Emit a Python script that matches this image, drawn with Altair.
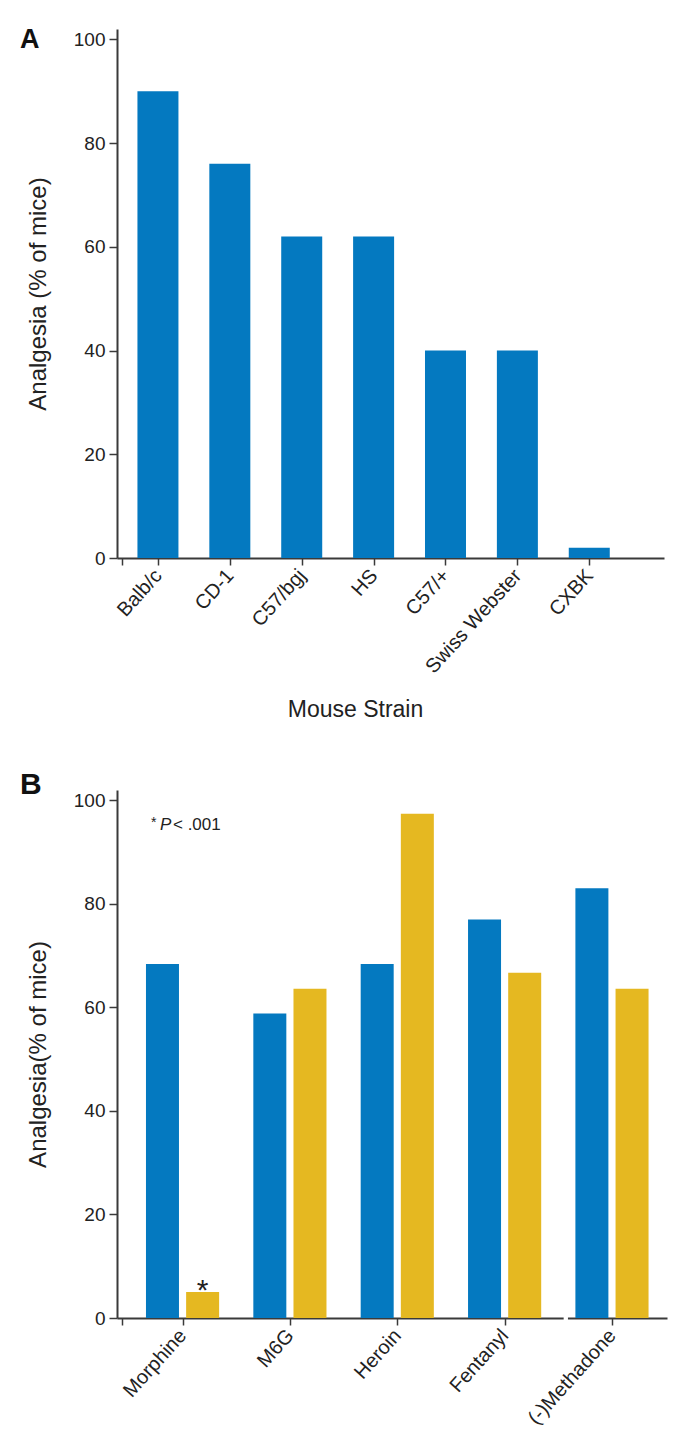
import json
import altair as alt
import pandas as pd

# ---------------- data ----------------
strains = ["Balb/c", "CD-1", "C57/bgj", "HS", "C57/+", "Swiss Webster", "CXBK"]
strain_analgesia = [90, 76, 62, 62, 40, 40, 2]

drugs = ["Morphine", "M6G", "Heroin", "Fentanyl", "(-)Methadone"]
series_names = ["Series 1", "Series 2"]
series1_analgesia = [68.4, 58.8, 68.4, 77.0, 83.0]
series2_analgesia = [5.0, 63.6, 97.4, 66.7, 63.6]
series2_marks = ["*", "", "", "", ""]
y_ticks = [0, 20, 40, 60, 80, 100]
axis_break = [3.55, 3.59]

BLUE = "#0479C0"
YELLOW = "#E5B821"
AXIS = "#3a3a3a"
FONT = "Liberation Sans"

# ---------------- panel A ----------------
dfA = pd.DataFrame({"strain": strains, "idx": list(range(len(strains))),
                    "value": strain_analgesia})
labelsA = json.dumps(strains).replace('"', "'")
xA = alt.X("idx:Q",
           scale=alt.Scale(domain=[-0.5, len(strains) - 0.03], nice=False, zero=False),
           axis=alt.Axis(values=[-0.5] + list(range(len(strains))),
                         labelExpr=f"datum.value < 0 ? '' : {labelsA}[round(datum.value)]",
                         title="Mouse Strain", titleX=238, titleY=158,
                         titleAlign="center", titleBaseline="alphabetic",
                         titleFontSize=23, titleFontWeight="normal"))
yA = alt.Y("value:Q", scale=alt.Scale(domain=[0, 102], nice=False),
           axis=alt.Axis(values=y_ticks, title="Analgesia (% of mice)",
                         titleX=-72, titleBaseline="alphabetic", titleAlign="center",
                         titleFontSize=24, titleFontWeight="normal"))
barsA = alt.Chart(dfA).mark_bar(size=41, color=BLUE).encode(x=xA, y=yA)
letterA = alt.Chart(pd.DataFrame({"t": ["A"]})).mark_text(
    align="left", baseline="alphabetic", fontSize=27, fontWeight="bold",
    font=FONT, color="#111").encode(text="t:N", x=alt.value(-97), y=alt.value(19))
panelA = alt.layer(barsA, letterA).properties(width=547, height=529)

# ---------------- panel B ----------------
rows = []
for i, d in enumerate(drugs):
    rows.append({"drug": d, "idx": i, "series": series_names[0],
                 "value": series1_analgesia[i], "mark": ""})
    rows.append({"drug": d, "idx": i, "series": series_names[1],
                 "value": series2_analgesia[i], "mark": series2_marks[i]})
dfB = pd.DataFrame(rows)
labelsB = json.dumps(drugs).replace('"', "'")
xB = alt.X("pos:Q",
           scale=alt.Scale(domain=[-0.564, len(drugs) - 0.534], nice=False, zero=False),
           axis=alt.Axis(values=[-0.564] + list(range(len(drugs))),
                         labelExpr=f"datum.value < 0 ? '' : {labelsB}[round(datum.value)]",
                         title=None))
yB = alt.Y("value:Q", scale=alt.Scale(domain=[0, 102], nice=False),
           axis=alt.Axis(values=y_ticks, title="Analgesia(% of mice)",
                         titleX=-72, titleBaseline="alphabetic", titleAlign="center",
                         titleFontSize=24, titleFontWeight="normal"))
baseB = alt.Chart(dfB).transform_calculate(
    pos=f"datum.idx + (datum.series == '{series_names[0]}' ? -0.187 : 0.187)")
barsB = baseB.mark_bar(size=33).encode(
    x=xB, y=yB,
    color=alt.Color("series:N", scale=alt.Scale(domain=series_names, range=[BLUE, YELLOW]),
                    legend=None))
starB = baseB.mark_text(fontSize=30, font=FONT, color="#222", baseline="alphabetic",
                        dy=8).encode(x="pos:Q", y="value:Q", text="mark:N")
breakB = alt.Chart(pd.DataFrame({"x": [axis_break[0]], "x2": [axis_break[1]], "y": [0]})).mark_rule(
    color="white", strokeWidth=4).encode(x="x:Q", x2="x2:Q", y="y:Q")
note1 = alt.Chart(pd.DataFrame({"t": ["*"]})).mark_text(
    align="left", baseline="alphabetic", fontSize=14, font=FONT,
    color="#222").encode(text="t:N", x=alt.value(34), y=alt.value(37))
note2 = alt.Chart(pd.DataFrame({"t": ["P"]})).mark_text(
    align="left", baseline="alphabetic", fontSize=17, font=FONT, fontStyle="italic",
    color="#222").encode(text="t:N", x=alt.value(43), y=alt.value(40))
note3 = alt.Chart(pd.DataFrame({"t": ["< .001"]})).mark_text(
    align="left", baseline="alphabetic", fontSize=17, font=FONT,
    color="#222").encode(text="t:N", x=alt.value(56), y=alt.value(40))
letterB = alt.Chart(pd.DataFrame({"t": ["B"]})).mark_text(
    align="left", baseline="alphabetic", fontSize=30, fontWeight="bold",
    font=FONT, color="#111").encode(text="t:N", x=alt.value(-97), y=alt.value(4))
panelB = alt.layer(barsB, starB, breakB, note1, note2, note3, letterB).properties(
    width=550, height=528)

chart = alt.vconcat(panelA, panelB, spacing=232, bounds="flush").properties(
    padding={"left": 12, "top": 18, "right": 5, "bottom": 5}
).configure_view(stroke=None).configure_axis(
    grid=False, domainColor=AXIS, domainWidth=2, tickColor=AXIS, tickWidth=1.5,
    labelFont=FONT, titleFont=FONT, labelColor="#222", titleColor="#222",
    labelFontSize=19, tickSize=8, labelPadding=4, labelOverlap=False
).configure_axisX(
    labelAngle=-48, labelAlign="right", labelBaseline="middle", tickSize=7,
    labelPadding=7, labelFontSize=20
)

chart.save("out.html", embed_options={"renderer": "svg", "actions": False})
